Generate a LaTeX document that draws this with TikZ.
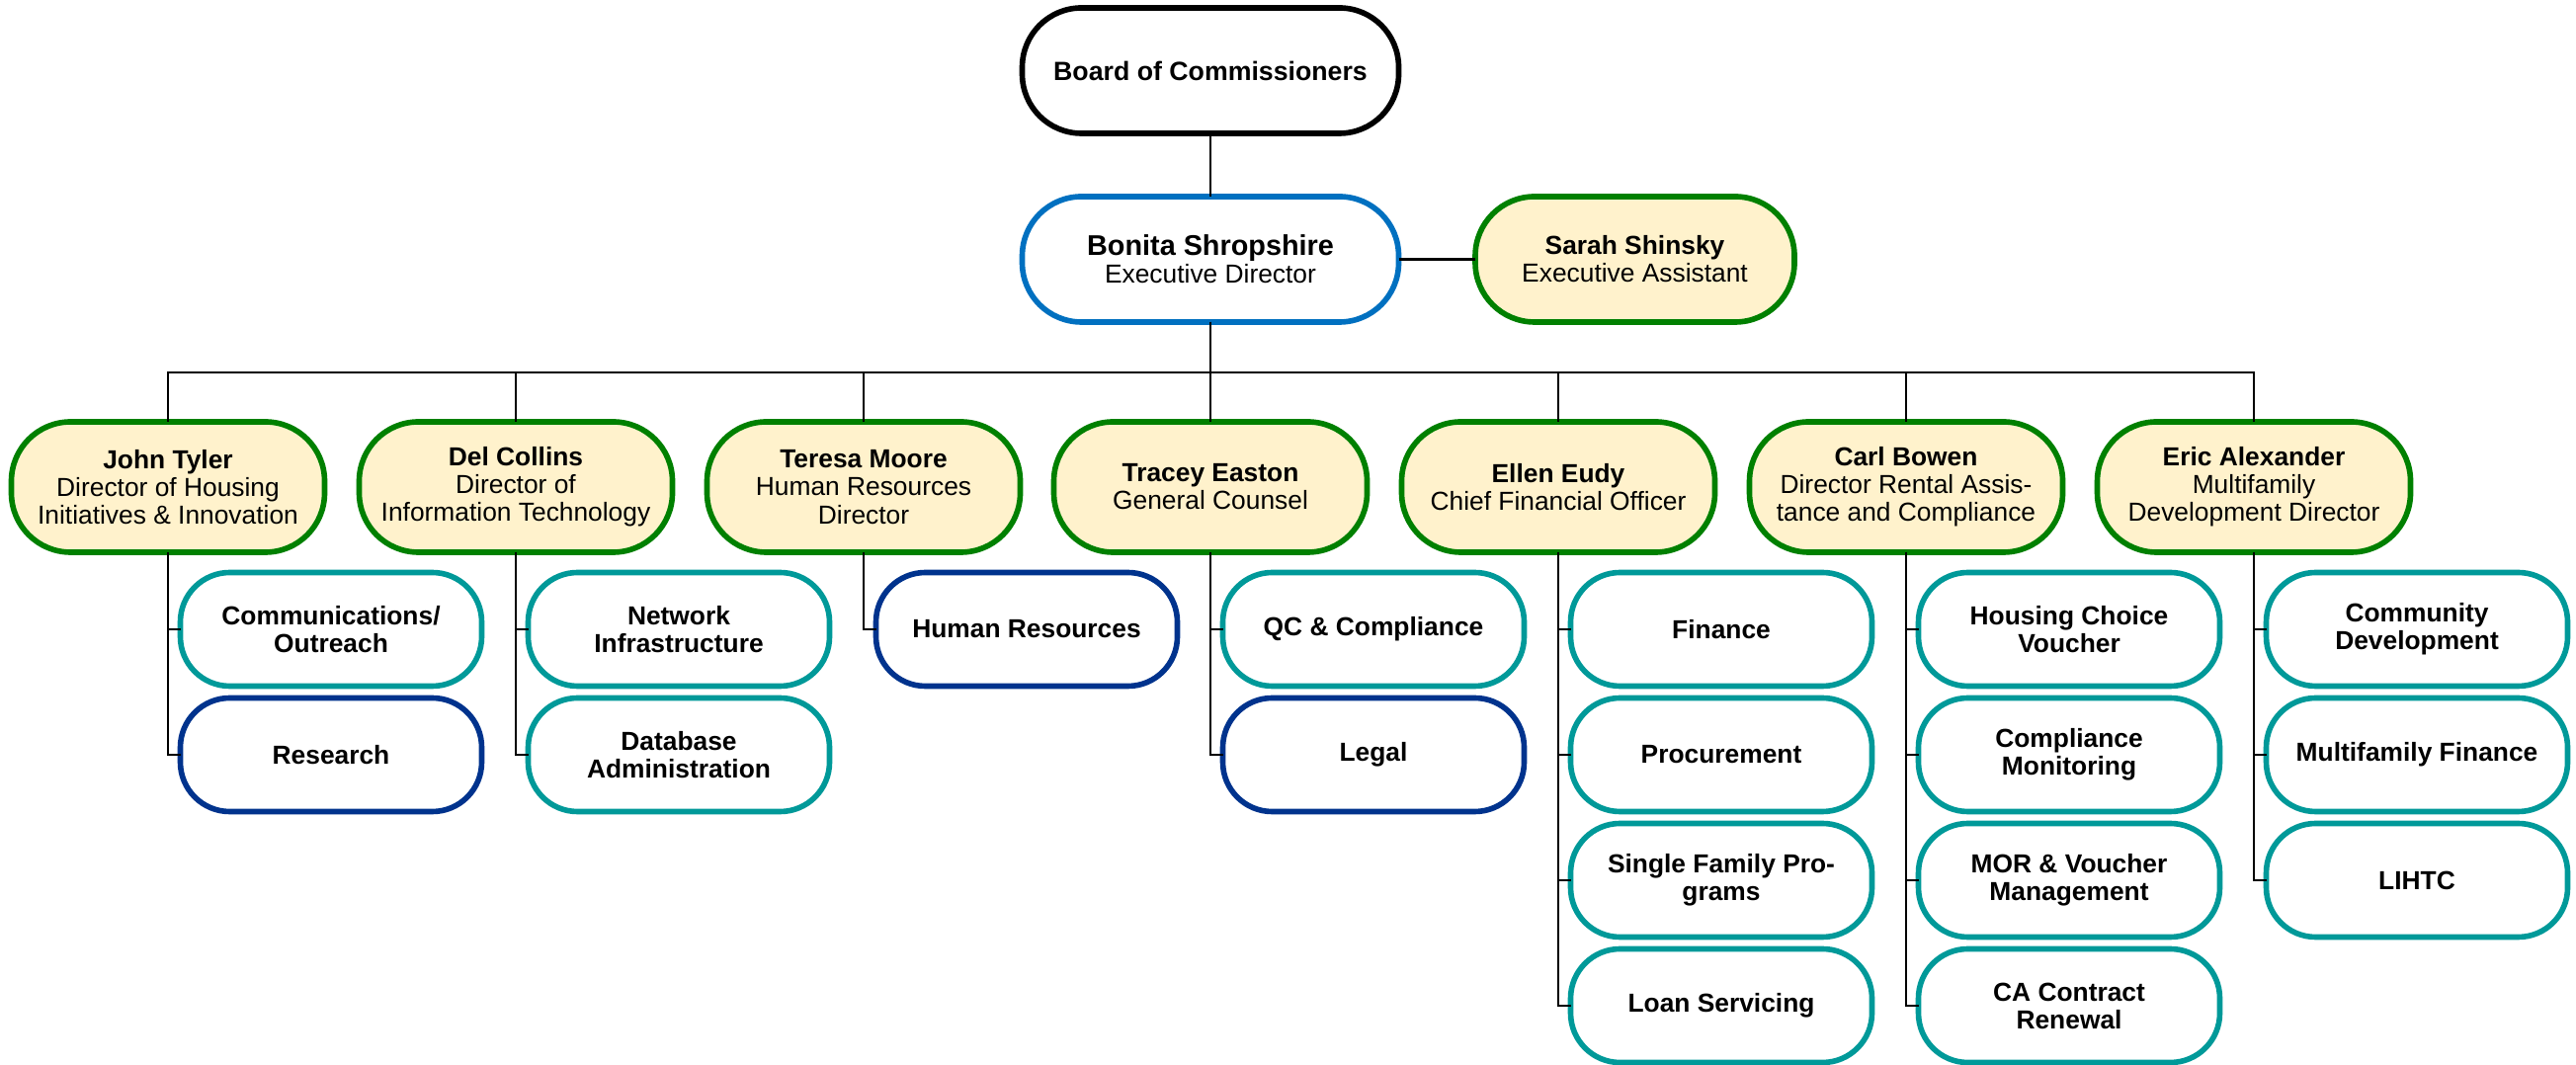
\documentclass[tikz,border=0pt]{standalone}
\usepackage{fontspec}
\setmainfont{Liberation Sans}
\usetikzlibrary{positioning}

\definecolor{headgreen}{RGB}{0,128,0}
\definecolor{headfill}{RGB}{255,242,204}
\definecolor{execblue}{RGB}{0,112,192}
\definecolor{unitteal}{RGB}{0,153,153}
\definecolor{unitnavy}{RGB}{0,51,141}

\begin{document}
\begin{tikzpicture}[
  font=\fontsize{7.5}{8}\selectfont,
  box/.style={rectangle, rounded corners=0.6cm, line width=1.6pt, align=center, inner sep=0pt, outer sep=0pt, minimum height=1.27cm},
  board/.style={box, draw=black, minimum width=3.81cm, font=\fontsize{7.6}{8}\selectfont\bfseries},
  exec/.style={box, draw=execblue, minimum width=3.81cm},
  assist/.style={box, draw=headgreen, fill=headfill, minimum width=3.23cm},
  head/.style={box, draw=headgreen, fill=headfill, minimum width=3.17cm, minimum height=1.32cm},
  unit/.style={box, rounded corners=0.5cm, draw=unitteal, minimum width=3.05cm, minimum height=1.15cm, font=\fontsize{7.5}{8}\selectfont\bfseries},
  core/.style={unit, draw=unitnavy},
  wire/.style={draw, line width=0.6pt},
]
\useasboundingbox (0,0) rectangle (26.07,-10.78);

\node[board] (board) at (12.25,-0.715) {Board of Commissioners};
\node[exec] (bonita) at (12.25,-2.625) {{\fontsize{8.2}{8}\selectfont\textbf{Bonita Shropshire}}\\Executive Director};
\node[assist] (sarah) at (16.545,-2.625) {\textbf{Sarah Shinsky}\\Executive Assistant};
\coordinate (bus) at (12.25,-3.77);

% directors
\node[head] (john) at (1.70,-4.93) {\textbf{John Tyler}\\Director of Housing\\Initiatives \& Innovation};
\node[head] (del) at (5.22,-4.93) {\textbf{Del Collins}\\Director of\\Information Technology};
\node[head] (teresa) at (8.74,-4.93) {\textbf{Teresa Moore}\\Human Resources\\Director};
\node[head] (tracey) at (12.25,-4.93) {\textbf{Tracey Easton}\\General Counsel};
\node[head] (ellen) at (15.77,-4.93) {\textbf{Ellen Eudy}\\Chief Financial Officer};
\node[head] (carl) at (19.29,-4.93) {\textbf{Carl Bowen}\\Director Rental Assis-\\tance and Compliance};
\node[head] (eric) at (22.81,-4.93) {\textbf{Eric Alexander}\\Multifamily\\Development Director};

% units
\node[unit] (comm) at (3.35,-6.37) {Communications/\\Outreach};
\node[core] (research) [below=0.12cm of comm] {Research};
\node[unit] (network) at (6.87,-6.37) {Network\\Infrastructure};
\node[unit] (dba) [below=0.12cm of network] {Database\\Administration};
\node[core] (hr) at (10.39,-6.37) {Human Resources};
\node[unit] (qc) at (13.90,-6.37) {QC \& Compliance};
\node[core] (legal) [below=0.12cm of qc] {Legal};
\node[unit] (finance) at (17.42,-6.37) {Finance};
\node[unit] (procure) [below=0.12cm of finance] {Procurement};
\node[unit] (sfp) [below=0.12cm of procure] {Single Family Pro-\\grams};
\node[unit] (loans) [below=0.12cm of sfp] {Loan Servicing};
\node[unit] (hcv) at (20.94,-6.37) {Housing Choice\\Voucher};
\node[unit] (monitor) [below=0.12cm of hcv] {Compliance\\Monitoring};
\node[unit] (mor) [below=0.12cm of monitor] {MOR \& Voucher\\Management};
\node[unit] (renewal) [below=0.12cm of mor] {CA Contract\\Renewal};
\node[unit] (commdev) at (24.46,-6.37) {Community\\Development};
\node[unit] (mffin) [below=0.12cm of commdev] {Multifamily Finance};
\node[unit] (lihtc) [below=0.12cm of mffin] {LIHTC};

\draw[wire] (board) -- (bonita);
\draw[wire] (bonita) -- (sarah);
\foreach \d in {john,del,teresa,tracey,ellen,carl,eric}
  \draw[wire] (bonita.south) -- (bus) -| (\d.north);
\foreach \p/\c in {john/comm,john/research,del/network,del/dba,teresa/hr,
  tracey/qc,tracey/legal,ellen/finance,ellen/procure,ellen/sfp,ellen/loans,
  carl/hcv,carl/monitor,carl/mor,carl/renewal,eric/commdev,eric/mffin,eric/lihtc}
  \draw[wire] (\p.south) |- (\c.west);
\end{tikzpicture}
\end{document}
